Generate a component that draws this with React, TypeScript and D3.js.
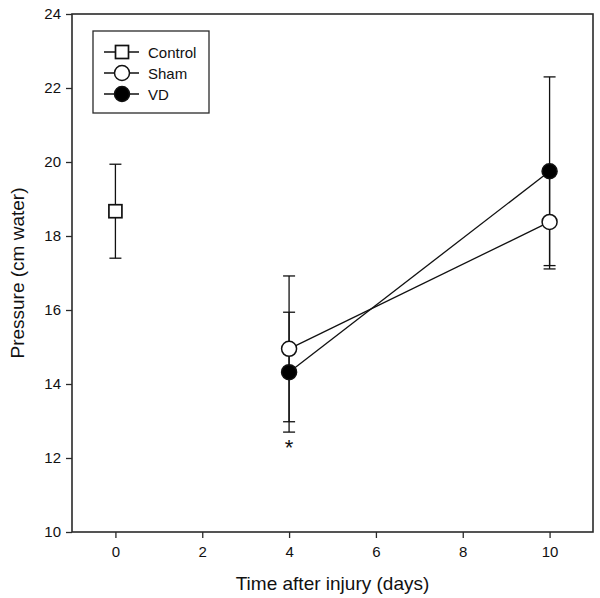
import React, { useEffect, useRef } from "react";
import * as d3 from "d3";

// group names, days, means and error (half-length of bar)
const groups = ["Control", "Sham", "VD"];
const controlDays = [0];
const controlMean = [18.67];
const controlErr = [1.27];
const shamDays = [4, 10];
const shamMean = [14.95, 18.38];
const shamErr = [1.97, 1.27];
const vdDays = [4, 10];
const vdMean = [14.32, 19.75];
const vdErr = [1.62, 2.55];
const xTicks = [0, 2, 4, 6, 8, 10];
const yTicks = [10, 12, 14, 16, 18, 20, 22, 24];
// significance marker
const starDay = 4;
const starValue = 12.3;

const W = 600;
const H = 598;
const FONT = "'Liberation Sans', Arial, sans-serif";

const App = () => {
  const ref = useRef<SVGSVGElement>(null);

  useEffect(() => {
    const svg = d3.select(ref.current);
    svg.selectAll("*").remove();

    const margin = { top: 14, right: 7, bottom: 66, left: 72 };
    const width = W - margin.left - margin.right;
    const height = H - margin.top - margin.bottom;

    const g = svg
      .append("g")
      .attr("transform", "translate(" + margin.left + "," + margin.top + ")");

    const x = d3.scaleLinear().domain([-1, 11]).range([0, width]);
    const y = d3.scaleLinear().domain([10, 24]).range([height, 0]);

    // frame
    g.append("rect")
      .attr("x", 0)
      .attr("y", 0)
      .attr("width", width)
      .attr("height", height)
      .attr("fill", "none")
      .attr("stroke", "#2a2a2a")
      .attr("stroke-width", 1.6);

    // axes
    const xAxis = g
      .append("g")
      .attr("transform", "translate(0," + height + ")")
      .call(d3.axisBottom(x).tickValues(xTicks).tickSize(6).tickPadding(8));
    const yAxis = g
      .append("g")
      .call(d3.axisLeft(y).tickValues(yTicks).tickSize(6).tickPadding(5));
    [xAxis, yAxis].forEach((a) => {
      a.select(".domain").remove();
      a.selectAll("line").attr("stroke", "#2a2a2a").attr("stroke-width", 1.3);
      a.selectAll("text")
        .attr("font-family", FONT)
        .attr("font-size", 15)
        .attr("fill", "#111");
    });

    // axis titles
    svg
      .append("text")
      .attr("x", margin.left + width / 2)
      .attr("y", 590)
      .attr("text-anchor", "middle")
      .attr("font-family", FONT)
      .attr("font-size", 19)
      .attr("fill", "#111")
      .text("Time after injury (days)");
    svg
      .append("text")
      .attr("transform", "translate(24," + (margin.top + height / 2) + ") rotate(-90)")
      .attr("text-anchor", "middle")
      .attr("font-family", FONT)
      .attr("font-size", 19)
      .attr("fill", "#111")
      .text("Pressure (cm water)");

    const series = [
      { days: controlDays, mean: controlMean, err: controlErr, shape: "square", fill: "white" },
      { days: shamDays, mean: shamMean, err: shamErr, shape: "circle", fill: "white" },
      { days: vdDays, mean: vdMean, err: vdErr, shape: "circle", fill: "black" },
    ];

    // error bars first
    series.forEach((s) => {
      s.days.forEach((day, i) => {
        const lo = s.mean[i] - s.err[i];
        const hi = s.mean[i] + s.err[i];
        const bar = g.append("g").attr("stroke", "#111").attr("stroke-width", 1.3);
        bar.append("line")
          .attr("x1", x(day)).attr("x2", x(day))
          .attr("y1", y(lo)).attr("y2", y(hi));
        [lo, hi].forEach((v) => {
          bar.append("line")
            .attr("x1", x(day) - 6).attr("x2", x(day) + 6)
            .attr("y1", y(v)).attr("y2", y(v));
        });
      });
    });

    // connecting lines
    series.forEach((s) => {
      if (s.days.length < 2) return;
      const pts = s.days.map((d, i) => [x(d), y(s.mean[i])] as [number, number]);
      g.append("path")
        .attr("d", d3.line()(pts))
        .attr("fill", "none")
        .attr("stroke", "#111")
        .attr("stroke-width", 1.3);
    });

    const drawMarker = (parent: any, cx: number, cy: number, shape: string, fill: string) => {
      if (shape === "square") {
        parent.append("rect")
          .attr("x", cx - 6.5).attr("y", cy - 6.5)
          .attr("width", 13).attr("height", 13)
          .attr("fill", fill).attr("stroke", "#111").attr("stroke-width", 1.7);
      } else {
        parent.append("circle")
          .attr("cx", cx).attr("cy", cy).attr("r", 7.5)
          .attr("fill", fill).attr("stroke", "#111").attr("stroke-width", 1.5);
      }
    };

    series.forEach((s) => {
      s.days.forEach((day, i) => {
        drawMarker(g, x(day), y(s.mean[i]), s.shape, s.fill);
      });
    });

    // significance star
    g.append("text")
      .attr("x", x(starDay))
      .attr("y", y(starValue) + 8)
      .attr("text-anchor", "middle")
      .attr("font-family", FONT)
      .attr("font-size", 22)
      .attr("fill", "#111")
      .text("*");

    // legend
    const lg = svg.append("g").attr("transform", "translate(93,31)");
    lg.append("rect")
      .attr("width", 116)
      .attr("height", 82)
      .attr("fill", "white")
      .attr("stroke", "#2a2a2a")
      .attr("stroke-width", 1.3);
    groups.forEach((name, i) => {
      const ry = 21 + i * 21;
      lg.append("line")
        .attr("x1", 11).attr("x2", 46)
        .attr("y1", ry).attr("y2", ry)
        .attr("stroke", "#111").attr("stroke-width", 1.3);
      drawMarker(lg, 29, ry, series[i].shape, series[i].fill);
      lg.append("text")
        .attr("x", 55)
        .attr("y", ry)
        .attr("dominant-baseline", "central")
        .attr("font-family", FONT)
        .attr("font-size", 15)
        .attr("fill", "#111")
        .text(name);
    });
  }, []);

  return (
    <div>
      <svg
        ref={ref}
        width={W}
        height={H}
        style={{ position: "absolute", left: 0, top: 0, background: "white" }}
      ></svg>
    </div>
  );
};

export default App;
